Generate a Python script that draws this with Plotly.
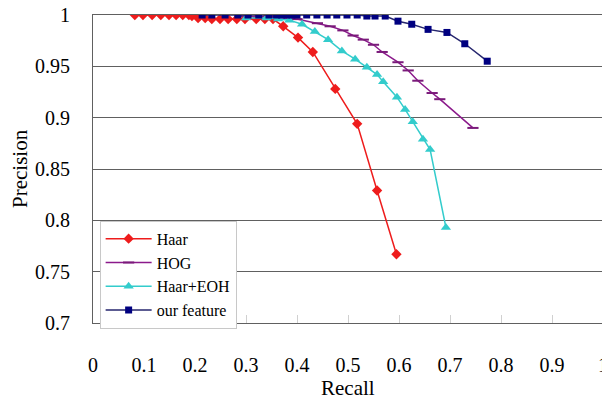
import plotly.graph_objects as go

haar_x = [0.082, 0.098, 0.116, 0.133, 0.149, 0.163, 0.176, 0.188, 0.194, 0.206, 0.22, 0.233,
          0.249, 0.265, 0.282, 0.298, 0.32, 0.337, 0.353, 0.373, 0.402, 0.431, 0.475, 0.518,
          0.557, 0.595]
haar_y = [1, 1, 1, 1, 1, 1, 1, 1, 0.999, 0.997, 0.997, 0.996, 0.996, 0.996, 0.996, 0.996,
          0.996, 0.996, 0.996, 0.989, 0.978, 0.964, 0.928, 0.894, 0.829, 0.767]

hog_x = [0.30, 0.35, 0.40, 0.44, 0.465, 0.49, 0.51, 0.53, 0.55, 0.567, 0.598, 0.618, 0.637,
         0.665, 0.68, 0.745]
hog_y = [0.999, 0.998, 0.996, 0.992, 0.989, 0.985, 0.980, 0.976, 0.971, 0.964, 0.954, 0.946,
         0.936, 0.924, 0.918, 0.890]

eoh_x = [0.30, 0.34, 0.363, 0.385, 0.41, 0.435, 0.461, 0.488, 0.514, 0.537, 0.557, 0.569,
         0.596, 0.612, 0.627, 0.647, 0.661, 0.692]
eoh_y = [0.997, 0.997, 0.996, 0.995, 0.991, 0.984, 0.976, 0.965, 0.957, 0.949, 0.942, 0.935,
         0.920, 0.908, 0.896, 0.879, 0.869, 0.793]

our_x = [0.214, 0.233, 0.259, 0.284, 0.304, 0.325, 0.345, 0.36, 0.37, 0.38, 0.39, 0.40, 0.419,
         0.439, 0.459, 0.478, 0.498, 0.518, 0.537, 0.553, 0.573, 0.598, 0.625, 0.657, 0.694,
         0.729, 0.773]
our_y = [1, 1, 1, 1, 1, 1, 1, 1, 1, 1, 1, 1, 1, 1, 1, 1, 1, 1, 0.999, 0.999, 0.999, 0.994,
         0.991, 0.986, 0.983, 0.972, 0.955]

x_ticks = [0, 0.1, 0.2, 0.3, 0.4, 0.5, 0.6, 0.7, 0.8, 0.9, 1]
x_tick_text = ["0", "0.1", "0.2", "0.3", "0.4", "0.5", "0.6", "0.7", "0.8", "0.9", "1"]
y_ticks = [0.7, 0.75, 0.8, 0.85, 0.9, 0.95, 1]
y_tick_text = ["0.7", "0.75", "0.8", "0.85", "0.9", "0.95", "1"]

FONT = "Liberation Serif, serif"

# the page body adds an 8 px offset, so the figure is 8 px smaller on each axis
W, H = 602, 395
ML, MR, MT, MB = 85, 7, 7, 80

fig = go.Figure()
fig.add_trace(go.Scatter(x=haar_x, y=haar_y, name="Haar", mode="lines+markers",
                         line=dict(color="#ee1c1c", width=1.5),
                         marker=dict(symbol="diamond", size=8, color="#ee1c1c")))
fig.add_trace(go.Scatter(x=hog_x, y=hog_y, name="HOG", mode="lines+markers",
                         line=dict(color="#8b1a8b", width=1.5),
                         marker=dict(symbol="line-ew", size=8,
                                     line=dict(color="#7a1a7a", width=2))))
fig.add_trace(go.Scatter(x=eoh_x, y=eoh_y, name="Haar+EOH", mode="lines+markers",
                         line=dict(color="#33cccc", width=1.5),
                         marker=dict(symbol="triangle-up", size=9, color="#33cccc")))
fig.add_trace(go.Scatter(x=our_x, y=our_y, name="our feature", mode="lines+markers",
                         line=dict(color="#26266e", width=1.5),
                         marker=dict(symbol="square", size=7, color="#000080")))

plot_w = W - ML - MR
plot_h = H - MT - MB

fig.update_layout(
    width=W, height=H,
    margin=dict(l=ML, r=MR, t=MT, b=MB),
    paper_bgcolor="white", plot_bgcolor="white",
    font=dict(family=FONT, color="black", size=20),
    showlegend=True,
    legend=dict(x=0.013, y=0.332, xanchor="left", yanchor="top",
                bgcolor="white", bordercolor="#c8c8c8", borderwidth=1,
                font=dict(family=FONT, size=16, color="black"), tracegroupgap=0,
                itemwidth=46),
    xaxis=dict(range=[0, 1], tickvals=x_ticks, ticktext=x_tick_text,
               tickfont=dict(family=FONT, size=20, color="black"),
               showgrid=False, zeroline=False, automargin=False,
               ticklabeloverflow="allow",
               showline=True, linecolor="#606060", linewidth=1.2, mirror=True,
               ticks="inside", ticklen=8, tickcolor="#d0d0d0",
               ticklabelstandoff=24),
    yaxis=dict(range=[0.7, 1], tickvals=y_ticks, ticktext=y_tick_text,
               tickfont=dict(family=FONT, size=20, color="black"),
               showgrid=True, gridcolor="#606060", gridwidth=1.2, zeroline=False,
               showline=True, linecolor="#606060", linewidth=1.2, mirror=True,
               automargin=False, ticklabeloverflow="allow",
               ticks="inside", ticklen=8, tickcolor="#606060",
               ticklabelstandoff=18),
    annotations=[
        dict(text="Recall", x=0.5, y=(315 - 380) / plot_h, xref="paper", yref="paper",
             xanchor="center", yanchor="middle",
             showarrow=False, font=dict(family=FONT, size=21, color="black")),
        dict(text="Precision", x=(12 - 85) / plot_w, y=0.5, xref="paper", yref="paper",
             xanchor="center", yanchor="middle",
             showarrow=False, textangle=-90, font=dict(family=FONT, size=21, color="black")),
    ],
)

fig.write_html("out.html")
